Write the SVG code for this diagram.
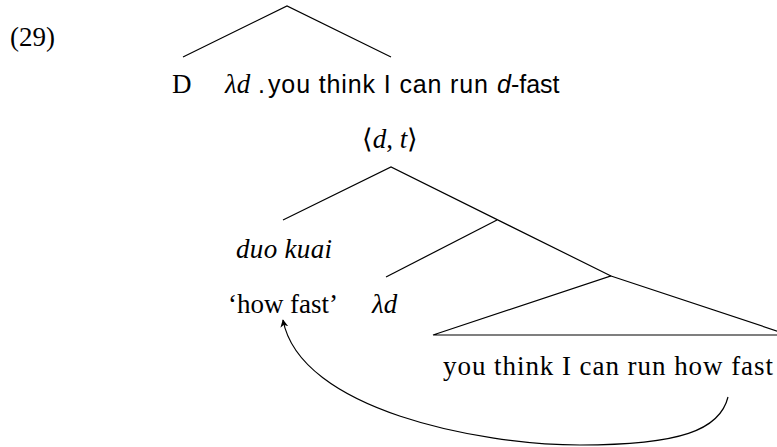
<svg xmlns="http://www.w3.org/2000/svg" width="777" height="447" viewBox="0 0 777 447">
<style>
.serif{font-family:"Liberation Serif","Times New Roman",serif;font-size:27px;fill:#000}
.it{font-style:italic}
.sans{font-family:"Liberation Sans",Arial,sans-serif;font-size:25px;fill:#000}
.edge{stroke:#000;stroke-width:1.2;fill:none}
</style>
<defs>
<marker id="arr" viewBox="0 0 10 10" refX="9" refY="5" markerWidth="8" markerHeight="8" orient="auto" markerUnits="userSpaceOnUse">
<path d="M0,0 L10,5 L0,10 L3,5 Z" fill="#000"/>
</marker>
</defs>
<rect width="777" height="447" fill="#fff"/>
<text class="serif" x="10" y="46">(29)</text>
<g id="connectors">
<path class="edge" d="M183,57 L287,6 L391,57"/>
<path class="edge" d="M283,220 L391,167 L611,276"/>
<path class="edge" d="M497,220 L386,277"/>
<path class="edge" d="M611,276 L789,335 L433,335 Z"/>
<path class="edge" d="M728,397 C720,430 680,445 580,445 C480,445 300,410 283,320" marker-end="url(#arr)"/>
</g>
<g id="node-D"><text class="serif" x="172" y="93">D</text></g>
<g id="node-lambda-top">
<text class="serif it" x="225" y="93">λd</text>
<text class="sans" x="258" y="93">.</text>
<text class="sans" x="268" y="93" textLength="220" lengthAdjust="spacing">you think I can run</text>
<text class="sans" x="497" y="93"><tspan class="it">d</tspan>-fast</text>
</g>
<g id="node-dt"><text class="serif" x="390" y="148" text-anchor="middle">⟨<tspan class="it">d</tspan>, <tspan class="it">t</tspan>⟩</text></g>
<g id="node-duokuai"><text class="serif it" x="236" y="258" textLength="96" lengthAdjust="spacing">duo kuai</text></g>
<g id="node-howfast"><text class="serif" x="228" y="313" textLength="110" lengthAdjust="spacing">‘how fast’</text></g>
<g id="node-lambda"><text class="serif it" x="372" y="313">λd</text></g>
<g id="node-clause"><text class="serif" x="443" y="375" textLength="330" lengthAdjust="spacing">you think I can run how fast</text></g>
</svg>
